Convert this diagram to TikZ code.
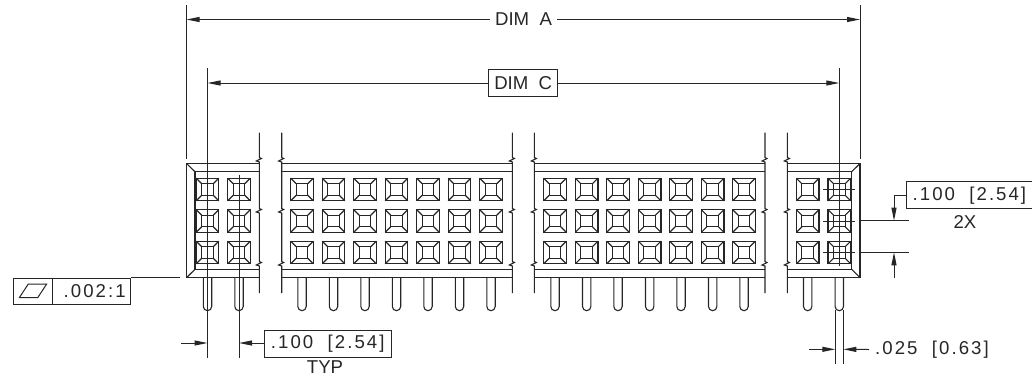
\documentclass[tikz,border=0pt]{standalone}
\usepackage{fontspec}
\setmainfont{Liberation Sans}
\newfontfamily\widefont[LetterSpace=11]{Liberation Sans}
\usetikzlibrary{arrows.meta}
\tikzset{
    part/.style={line width=1.1pt,black!85},
    dimline/.style={line width=1pt,black!85},
    lbl/.style={inner sep=0pt,font=\fontsize{18.6}{20}\selectfont,text=black!85},
    numlbl/.style={lbl,font=\fontsize{18.6}{20}\selectfont\widefont},
    framed/.style={draw,line width=1pt,black!85,inner sep=0pt,minimum height=27pt}
}
% one socket of the housing, seen from above
\newcommand{\socketat}[2]{
    \draw[part] (#1-11.3,#2-11.3) rectangle (#1+11.3,#2+11.3);
    \draw[part] (#1-5.8,#2-5.8) rectangle (#1+5.8,#2+5.8);
    \draw[part] (#1-11.3,#2-11.3) to (#1-5.8,#2-5.8); \draw[part] (#1+11.3,#2-11.3) to (#1+5.8,#2-5.8);
    \draw[part] (#1-11.3,#2+11.3) to (#1-5.8,#2+5.8); \draw[part] (#1+11.3,#2+11.3) to (#1+5.8,#2+5.8);
}
% one pin and its three sockets
\newcommand{\pincolumn}[1]{
    \socketat{#1}{189.5} \socketat{#1}{221} \socketat{#1}{252.5}
    \draw[part] (#1-4.2,278) to (#1-4.2,306.5) arc[start angle=180,end angle=0,radius=4.2] to (#1+4.2,278);
}
% break line of the housing, with its three jogs
\newcommand{\breakline}[1]{
    \draw[part] (#1,132.5) to (#1,157.5) to (#1+2,158.5) to (#1-3,161) to (#1,162) to (#1,208.5) to (#1+2,209.5) to (#1-3,212) to (#1,213) to (#1,261.5) to (#1+2,262.5) to (#1-3,265) to (#1,266) to (#1,293);
}
\begin{document}
\begin{tikzpicture}[x=1pt,y=-1pt,>={Triangle[length=13pt,width=5pt]}]
    \useasboundingbox (0,0) rectangle (1032,376);

    % housing
    \draw[part] (259.3,163.5) to (186.5,163.5) to (186.5,277.7) to (259.3,277.7); \draw[part] (259.3,171.7) to (195,171.7) to (195,269.3) to (259.3,269.3);
    \draw[part] (186.5,163.5) to (195,171.7); \draw[part] (186.5,277.7) to (195,269.3);
    \draw[part] (281.7,163.5) to (512.3,163.5); \draw[part] (281.7,171.7) to (512.3,171.7); \draw[part] (281.7,269.3) to (512.3,269.3); \draw[part] (281.7,277.7) to (512.3,277.7);
    \draw[part] (534.3,163.5) to (765,163.5); \draw[part] (534.3,171.7) to (765,171.7); \draw[part] (534.3,269.3) to (765,269.3); \draw[part] (534.3,277.7) to (765,277.7);
    \draw[part] (787.3,163.5) to (860,163.5) to (860,277.7) to (787.3,277.7); \draw[part] (787.3,171.7) to (851.7,171.7) to (851.7,269.3) to (787.3,269.3);
    \draw[part] (860,163.5) to (851.7,171.7); \draw[part] (860,277.7) to (851.7,269.3);
    \breakline{259.3} \breakline{281.7} \breakline{512.3} \breakline{534.3} \breakline{765} \breakline{787.3}

    \foreach \x in {207.5,239,302,333.5,365,396.5,428,459.5,491,555,586.7,618,649.7,681,712.7,744,807.7,839.3} {
        \pincolumn{\x}
    }

    % overall dimensions
    \node[lbl] (dimA) at (523.5,19.5) {DIM\ \ A}; \node[framed,lbl,draw,minimum width=69pt] (dimC) at (523.2,83) {DIM\ \ C};
    \coordinate (dimAl) at (186.5,19.5); \coordinate (dimAr) at (860,19.5); \coordinate (dimCl) at (207.5,83); \coordinate (dimCr) at (839.3,83);
    \draw[dimline,->] ([xshift=-5pt]dimA.west) to (dimAl); \draw[dimline,->] ([xshift=5pt]dimA.east) to (dimAr);
    \draw[dimline,->] (dimC) to (dimCl); \draw[dimline,->] (dimC) to (dimCr);
    \draw[dimline] (186.5,5) to (186.5,159); \draw[dimline] (860,5) to (860,159);
    \draw[dimline] (207.5,68) to (207.5,358); \draw[dimline] (239,175) to (239,358); \draw[dimline] (839.3,68) to (839.3,266);
    \draw[dimline] (823,189.5) to (855,189.5); \draw[dimline] (823,221) to (855,221); \draw[dimline] (823,252.5) to (855,252.5);

    % flatness callout
    \node[framed,minimum width=117.4pt,minimum height=25.7pt] (flat) at (72,291.2) {};
    \node[numlbl,anchor=west] (flatval) at (63.5,291.5) {.002:1};
    \draw[dimline] (52.7,278.3) to (52.7,304);
    \draw[dimline] (19.3,297.7) to (28.3,284) to (46.7,284) to (37.7,297.7) -- cycle;
    \coordinate (flatend) at (180,278.3);
    \draw[dimline] (flat.north east) to (flat.north east -| flatend);

    % pin pitch
    \node[framed,numlbl,draw,minimum width=126.7pt] (pitch) at (327.7,343.7) {.100\ \ [2.54]}; \node[lbl] (typ) at (325,367.5) {TYP};
    \coordinate (pitchl) at (207.5,343); \coordinate (pitchlo) at (181,343); \coordinate (pitchr) at (239,343);
    \draw[dimline,->] (pitchlo) to (pitchl); \draw[dimline,->] (pitch.west |- pitchr) to (pitchr);

    % row pitch
    \node[framed,numlbl,draw,minimum width=125.3pt] (rows) at (969.4,195.2) {.100\ \ [2.54]}; \node[lbl] (twox) at (965,222) {2X};
    \coordinate (rowsa) at (894,220.7); \coordinate (rowsb) at (894,252.3); \coordinate (rowso) at (894,278);
    \draw[dimline,->] (rows.west) to (894,195.2) to (rowsa); \draw[dimline,->] (rowso) to (rowsb);
    \draw[dimline] (860,220.7) to (909,220.7); \draw[dimline] (860,252.3) to (909,252.3);

    % pin width
    \node[numlbl,anchor=west] (pinw) at (875,349.5) {.025\ \ [0.63]};
    \coordinate (pinwl) at (835.3,349.3); \coordinate (pinwlo) at (809,349.3); \coordinate (pinwr) at (843.3,349.3);
    \draw[dimline,->] (pinwlo) to (pinwl); \draw[dimline,->] ([xshift=-6pt]pinw.west) to (pinwr);
    \draw[dimline] (835.3,310) to (835.3,364); \draw[dimline] (843.3,310) to (843.3,364);
\end{tikzpicture}
\end{document}
